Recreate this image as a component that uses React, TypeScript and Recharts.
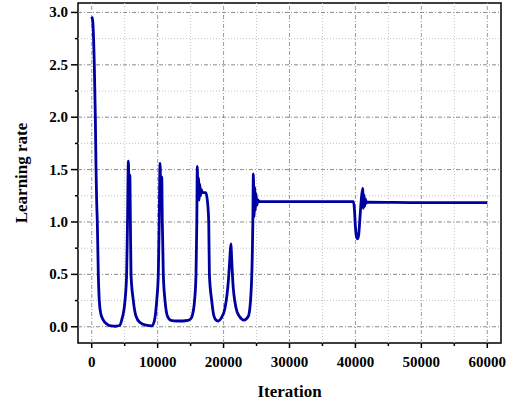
import React from 'react';
import { LineChart, Line, XAxis, YAxis, ReferenceLine, ReferenceArea } from 'recharts';

// Learning rate schedule, split by phase: [iteration, lr]
const warmDecay: [number, number][] = [
    [0, 2.96], [150, 2.92], [400, 2.48], [550, 2.0], [650, 1.53], [750, 1.2], [850, 1.0],
    [1000, 0.5], [1150, 0.25], [1360, 0.13], [1760, 0.064], [2280, 0.026], [2900, 0.008],
    [3600, 0.005], [4200, 0.012],
];
const cycle1: [number, number][] = [
    [4550, 0.064], [5050, 0.25], [5300, 0.51], [5430, 1.0], [5560, 1.58], [5660, 1.32],
    [5780, 1.45], [5870, 1.0], [5960, 0.5], [6310, 0.25], [6720, 0.1], [7330, 0.04],
    [8240, 0.015], [9150, 0.008],
];
const cycle2: [number, number][] = [
    [9530, 0.064], [9860, 0.25], [10100, 0.5], [10240, 1.0], [10360, 1.56], [10480, 1.3],
    [10620, 1.43], [10710, 1.0], [10860, 0.5], [11120, 0.25], [11500, 0.1], [12030, 0.06],
    [12900, 0.055], [13800, 0.055], [14600, 0.06], [15000, 0.075],
];
const cycle3: [number, number][] = [
    [15220, 0.1], [15600, 0.25], [15820, 0.5], [15940, 1.0], [16020, 1.53], [16100, 1.22],
    [16200, 1.42], [16300, 1.21], [16400, 1.36], [16500, 1.25], [16620, 1.31], [16800, 1.28],
    [17300, 1.28], [17550, 1.2], [17750, 1.0], [17850, 0.5], [18200, 0.25], [18550, 0.1],
    [18930, 0.06], [19200, 0.055],
];
const cycle4: [number, number][] = [
    [19620, 0.08], [20220, 0.18], [20730, 0.44], [20950, 0.65], [21100, 0.79], [21250, 0.62],
    [21390, 0.44], [21890, 0.18], [22390, 0.1], [23100, 0.064],
];
const cycle5: [number, number][] = [
    [23760, 0.1], [24170, 0.33], [24360, 0.7], [24440, 1.0], [24520, 1.46], [24620, 1.05],
    [24720, 1.33], [24820, 1.11], [24920, 1.27], [25050, 1.16], [25200, 1.21], [25400, 1.195],
];
const plateau: [number, number][] = [
    [32000, 1.195], [39700, 1.195], [39850, 1.12], [40000, 0.95], [40200, 0.85], [40350, 0.84],
    [40500, 0.88], [40700, 1.05], [40900, 1.22], [41100, 1.32], [41200, 1.13], [41300, 1.26],
    [41400, 1.15], [41500, 1.22], [41650, 1.18], [41800, 1.19], [50000, 1.185], [60000, 1.185],
];

const xTicks = [0, 5000, 10000, 15000, 20000, 25000, 30000, 35000, 40000, 45000, 50000, 55000, 60000];
const yTicks = [0, 0.25, 0.5, 0.75, 1, 1.25, 1.5, 1.75, 2, 2.25, 2.5, 2.75, 3];
const xDomain: [number, number] = [-2080, 62080];
const yDomain: [number, number] = [-0.155, 3.09];

const data = [...warmDecay, ...cycle1, ...cycle2, ...cycle3, ...cycle4, ...cycle5, ...plateau].map(
    ([iteration, lr]) => ({ iteration, lr })
);

const FONT = "'Liberation Serif', 'Times New Roman', serif";
const labelStyle = { fontFamily: FONT, fontWeight: 'bold' as const, fontSize: 15, fill: '#000' };
const isMajorX = (v: number) => v % 10000 === 0;
const isMajorY = (v: number) => Math.abs(v * 2 - Math.round(v * 2)) < 1e-6;

const XTick = ({ x, y, payload }: any) => {
    const major = isMajorX(payload.value);
    return (
        <g>
            <line x1={x} x2={x} y1={y} y2={y + (major ? 5 : 3)} stroke="#000" strokeWidth={1.5} />
            {major && (
                <text x={x} y={y + 24} textAnchor="middle" style={labelStyle}>
                    {payload.value}
                </text>
            )}
        </g>
    );
};

const YTick = ({ x, y, payload }: any) => {
    const major = isMajorY(payload.value);
    return (
        <g>
            <line x1={x - (major ? 7 : 3)} x2={x} y1={y} y2={y} stroke="#000" strokeWidth={1.5} />
            {major && (
                <text x={x - 10} y={y + 5} textAnchor="end" style={labelStyle}>
                    {payload.value.toFixed(1)}
                </text>
            )}
        </g>
    );
};

export default function App() {
    return (
        <div style={{ position: 'absolute', left: 0, top: 0, background: '#fff', fontFamily: FONT }}>
            <LineChart width={515} height={405} data={data} margin={{ top: 3, right: 14, bottom: 0, left: 0 }}>
                <XAxis
                    dataKey="iteration"
                    type="number"
                    domain={xDomain}
                    allowDataOverflow
                    ticks={xTicks}
                    interval={0}
                    height={62}
                    tickSize={0}
                    tickMargin={0}
                    axisLine={false}
                    tickLine={false}
                    tick={XTick}
                    label={{
                        value: 'Iteration',
                        position: 'insideBottom',
                        offset: 8,
                        style: { fontFamily: FONT, fontWeight: 'bold', fontSize: 17, fill: '#000' },
                    }}
                />
                <YAxis
                    type="number"
                    domain={yDomain}
                    allowDataOverflow
                    ticks={yTicks}
                    interval={0}
                    width={78}
                    tickSize={0}
                    tickMargin={0}
                    axisLine={false}
                    tickLine={false}
                    tick={YTick}
                    label={{
                        value: 'Learning rate',
                        angle: -90,
                        position: 'insideLeft',
                        offset: 21,
                        style: { fontFamily: FONT, fontWeight: 'bold', fontSize: 17, fill: '#000', textAnchor: 'middle' },
                    }}
                />
                {xTicks.map(t => (
                    <ReferenceLine
                        key={`gx${t}`}
                        x={t}
                        stroke={isMajorX(t) ? '#9a9a9a' : '#c4c4c4'}
                        strokeWidth={1}
                        strokeDasharray={isMajorX(t) ? '4 2 1 2' : '1 2'}
                    />
                ))}
                {yTicks.map(t => (
                    <ReferenceLine
                        key={`gy${t}`}
                        y={t}
                        stroke={isMajorY(t) ? '#8a8a8a' : '#c4c4c4'}
                        strokeWidth={1}
                        strokeDasharray={isMajorY(t) ? '4 2 1 2' : '1 2'}
                    />
                ))}
                <Line
                    type="monotone"
                    dataKey="lr"
                    stroke="#0000a0"
                    strokeWidth={2.8}
                    dot={false}
                    isAnimationActive={false}
                />
                <ReferenceArea
                    x1={xDomain[0]}
                    x2={xDomain[1]}
                    y1={yDomain[0]}
                    y2={yDomain[1]}
                    fill="none"
                    fillOpacity={0}
                    stroke="#000"
                    strokeWidth={1.5}
                />
            </LineChart>
        </div>
    );
}
